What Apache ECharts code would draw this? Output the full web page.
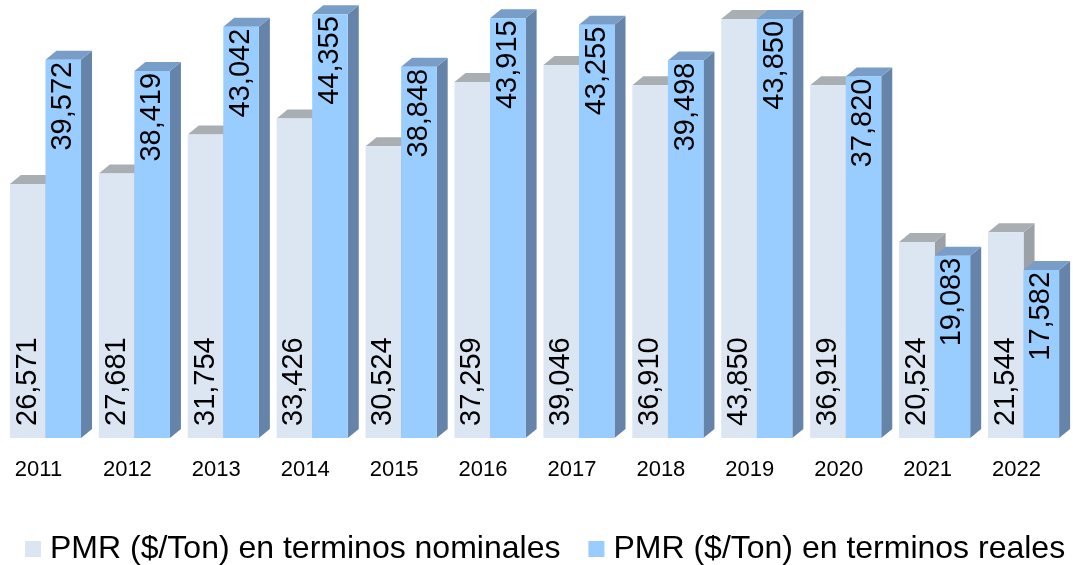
<!DOCTYPE html>
<html>
<head>
<meta charset="utf-8">
<script src="https://cdn.jsdelivr.net/npm/echarts@6/dist/echarts.min.js"></script>
<style>
  html, body { margin: 0; padding: 0; background: #fff; }
  #chart { width: 1073px; height: 565px; }
</style>
</head>
<body>
<div id="chart"></div>
<script>
// datos
var years = ['2011', '2012', '2013', '2014', '2015', '2016', '2017', '2018', '2019', '2020', '2021', '2022'];
var nominales = [26571, 27681, 31754, 33426, 30524, 37259, 39046, 36910, 43850, 36919, 20524, 21544];
var reales = [39572, 38419, 43042, 44355, 38848, 43915, 43255, 39498, 43850, 37820, 19083, 17582];
var serieNames = ['PMR ($/Ton) en terminos nominales', 'PMR ($/Ton) en terminos reales'];

var FONT = '"Liberation Sans", Arial, sans-serif';
var DX = 11, DY = 9; // profundidad del efecto 3d

// dibuja una barra "3d": cara frontal, tapa y lateral
function bar3d(lado, colores, posLabel) {
  return function (params, api) {
    var idx = api.value(0);
    var val = api.value(1);
    var top = api.coord([idx, val]);
    var base = api.coord([idx, 0]);
    var band = api.size([1, 0])[0];
    var w = band * 0.4;
    var x0 = lado === 'izq' ? top[0] - w : top[0];
    var x1 = x0 + w;
    var yT = top[1], yB = base[1];
    var texto = val.toLocaleString('en-US');
    var label;
    if (posLabel === 'base') {
      label = { type: 'text', x: x0 + w / 2, y: yB - 12, rotation: Math.PI / 2,
        style: { text: texto, font: '29px ' + FONT, fill: '#000', align: 'left', verticalAlign: 'middle' } };
    } else {
      label = { type: 'text', x: x0 + w / 2, y: yT + 2, rotation: Math.PI / 2,
        style: { text: texto, font: '29px ' + FONT, fill: '#000', align: 'right', verticalAlign: 'middle' } };
    }
    return {
      type: 'group',
      children: [
        { type: 'polygon', shape: { points: [[x1, yT], [x1 + DX, yT - DY], [x1 + DX, yB - DY], [x1, yB]] },
          style: { fill: colores.lado } },
        { type: 'polygon', shape: { points: [[x0, yT], [x0 + DX, yT - DY], [x1 + DX, yT - DY], [x1, yT]] },
          style: { fill: colores.tapa } },
        { type: 'rect', shape: { x: x0, y: yT, width: w, height: yB - yT },
          style: { fill: colores.frente } },
        label
      ]
    };
  };
}

var chart = echarts.init(document.getElementById('chart'));
var option = {
  animation: false,
  backgroundColor: '#fff',
  grid: { left: 1, right: 5, top: 8, bottom: 127, containLabel: false },
  legend: {
    data: serieNames,
    left: 20,
    top: 528,
    icon: 'rect',
    itemWidth: 16,
    itemHeight: 16,
    itemGap: 28,
    textStyle: { fontFamily: FONT, fontSize: 32, color: '#000', padding: [0, 0, 0, 4] }
  },
  xAxis: {
    type: 'category',
    data: years,
    axisLine: { show: false },
    axisTick: { show: false },
    axisLabel: { fontFamily: FONT, fontSize: 22, color: '#000', margin: 21, padding: [0, 14, 0, 0] }
  },
  yAxis: {
    type: 'value',
    min: 0,
    max: 45000,
    show: false,
    splitLine: { show: false }
  },
  series: [
    {
      name: serieNames[0],
      type: 'custom',
      z: 1,
      itemStyle: { color: '#DCE6F2' },
      encode: { x: 0, y: 1 },
      data: years.map(function (y, i) { return [i, nominales[i]]; }),
      renderItem: bar3d('izq', { frente: '#DCE6F2', tapa: '#A9AEB3', lado: '#9CA1A7' }, 'base')
    },
    {
      name: serieNames[1],
      type: 'custom',
      z: 2,
      itemStyle: { color: '#99CCFF' },
      encode: { x: 0, y: 1 },
      data: years.map(function (y, i) { return [i, reales[i]]; }),
      renderItem: bar3d('der', { frente: '#99CCFF', tapa: '#789DC6', lado: '#6684A9' }, 'tope')
    }
  ]
};
chart.setOption(option);
</script>
</body>
</html>
